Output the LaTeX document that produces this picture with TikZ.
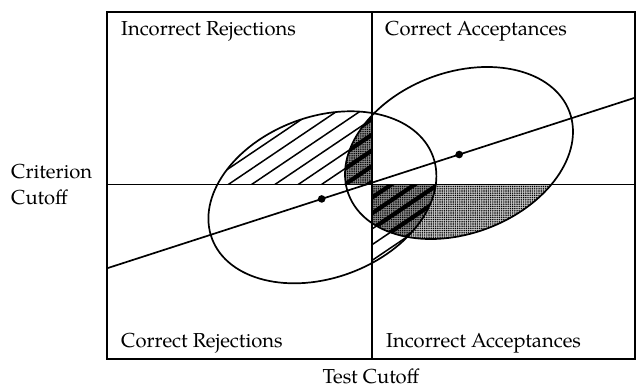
\documentclass[tikz,border=0pt]{standalone}
\usepackage{fontspec}
\setmainfont{TeX Gyre Pagella}
\usetikzlibrary{patterns.meta}
\begin{document}
\begin{tikzpicture}[x=1pt,y=1pt,
  lbl/.style={font=\fontsize{20.2}{27}\selectfont, inner sep=0pt, anchor=base west},
  mainline/.style={line width=1.7pt},
  frameline/.style={line width=1.9pt},
  hatchline/.style={line width=1.5pt},
  darkhatch/.style={line width=4.2pt},
  stipple/.style={pattern={Dots[distance=2.2pt, radius=0.8pt]}, pattern color=black},
  dotnode/.style={circle, fill=black, inner sep=0pt, minimum size=7.6pt}]
\useasboundingbox (0,0) rectangle (638,389);
% key coordinates
\coordinate (LC) at (322.4,191.7);
\coordinate (RC) at (459,236);
\coordinate (fsw) at (107,30);
\coordinate (fne) at (635,377);
\coordinate (vtop) at (372,377);
\coordinate (vbot) at (372,30);
\coordinate (hl) at (107,204.5);
\coordinate (hr) at (635,204.5);
\coordinate (cross) at (372,204.5);
\coordinate (rl1) at (107,120.7);
\coordinate (rl2) at (635,291.3);
% stipple: right ellipse, upper-left and lower-right quadrants
\begin{scope}
  \clip[rotate around={20.5:(RC)}] (RC) ellipse [x radius=117.9, y radius=80.55];
  \fill[black!22] (hl) rectangle (vtop);
  \fill[black!22] (cross) rectangle (635,30);
  \fill[stipple] (hl) rectangle (vtop);
  \fill[stipple] (cross) rectangle (635,30);
\end{scope}
% hatch: left ellipse, upper-left quadrant
\begin{scope}
  \clip[rotate around={20.5:(LC)}] (LC) ellipse [x radius=117.9, y radius=80.55];
  \clip (hl) rectangle (vtop);
  \foreach \k in {-12,...,12}
    \draw[hatchline] ({228.3+23.3*\k},204.5) ++(-200,-134.9) -- ++(400,269.8);
\end{scope}
% hatch: left ellipse, lower-right quadrant
\begin{scope}
  \clip[rotate around={20.5:(LC)}] (LC) ellipse [x radius=117.9, y radius=80.55];
  \clip (cross) rectangle (635,30);
  \foreach \k in {-12,...,12}
    \draw[hatchline] ({228.3+23.3*\k},204.5) ++(-200,-134.9) -- ++(400,269.8);
\end{scope}
% overlaps: dark stipple with heavy hatch
\begin{scope}
  \clip[rotate around={20.5:(LC)}] (LC) ellipse [x radius=117.9, y radius=80.55];
  \clip[rotate around={20.5:(RC)}] (RC) ellipse [x radius=117.9, y radius=80.55];
  \clip (hl) rectangle (vtop);
  \fill[black!45] (hl) rectangle (vtop);
  \fill[stipple] (hl) rectangle (vtop);
  \foreach \k in {-12,...,12}
    \draw[darkhatch] ({228.3+23.3*\k},204.5) ++(-200,-134.9) -- ++(400,269.8);
\end{scope}
\begin{scope}
  \clip[rotate around={20.5:(LC)}] (LC) ellipse [x radius=117.9, y radius=80.55];
  \clip[rotate around={20.5:(RC)}] (RC) ellipse [x radius=117.9, y radius=80.55];
  \clip (cross) rectangle (635,30);
  \fill[black!45] (cross) rectangle (635,30);
  \fill[stipple] (cross) rectangle (635,30);
  \foreach \k in {-12,...,12}
    \draw[darkhatch] ({228.3+23.3*\k},204.5) ++(-200,-134.9) -- ++(400,269.8);
\end{scope}
% ellipses
\draw[mainline, rotate around={20.5:(LC)}] (LC) ellipse [x radius=117.9, y radius=80.55];
\draw[mainline, rotate around={20.5:(RC)}] (RC) ellipse [x radius=117.9, y radius=80.55];
% cutoff lines and frame
\draw[mainline] (vtop) -- (vbot);
\draw[mainline] (hl) -- (hr);
\draw[frameline] (fsw) rectangle (fne);
% regression line with means
\draw[mainline] (rl1) -- (rl2)
  node[pos=0.4066, dotnode] (m1) {}
  node[pos=0.667, dotnode] (m2) {};
% labels
\node[lbl] (ir) at (121,353) {Incorrect Rejections};
\node[lbl] (ca) at (385,353) {Correct Acceptances};
\node[lbl] (cr) at (121,41.5) {Correct Rejections};
\node[lbl] (ia) at (386,41.5) {Incorrect Acceptances};
\node[lbl] (crit) at (11,211) {Criterion};
\node[lbl] (cut) at (11,184) {Cutoff};
\node[font=\fontsize{20.2}{27}\selectfont, inner sep=0pt, anchor=base] (tc) at (371,5.5) {Test Cutoff};
\end{tikzpicture}
\end{document}
